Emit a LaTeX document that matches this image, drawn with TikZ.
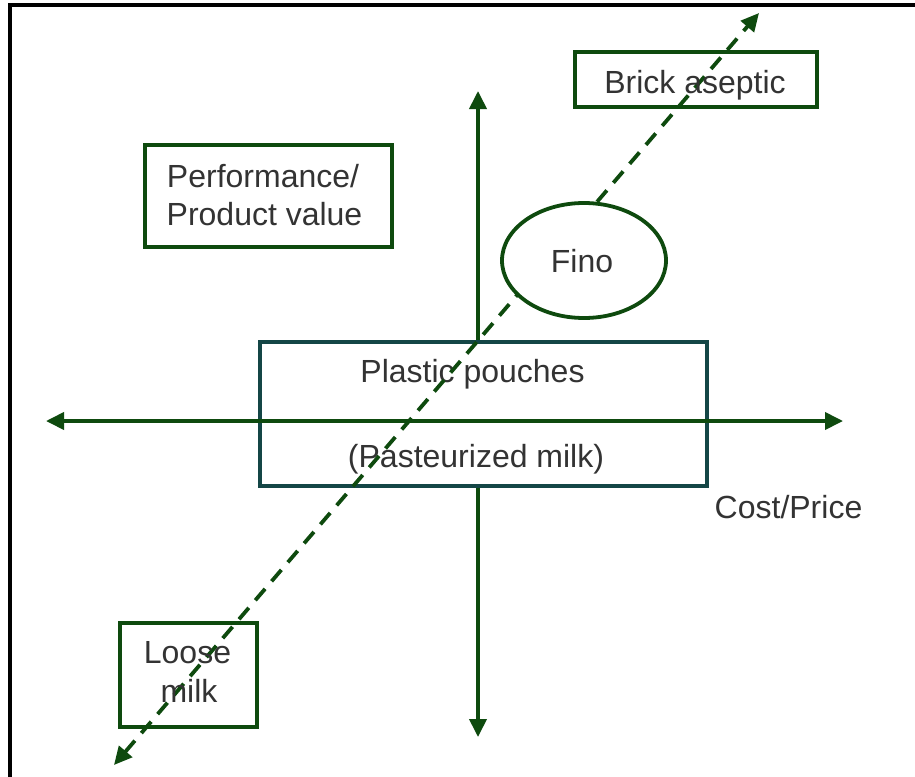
\documentclass[tikz,border=0pt]{standalone}
\usepackage{fontspec}
\setmainfont{Liberation Sans}
\usetikzlibrary{arrows.meta,shapes.geometric}
\definecolor{dg}{RGB}{14,74,14}
\definecolor{boxteal}{RGB}{20,70,70}
\tikzset{
  lbl/.style={font=\fontsize{32}{38}\selectfont, text=black!80, inner sep=0pt, anchor=base},
  gbox/.style={draw=dg, line width=3.8pt, inner sep=0pt},
  axisline/.style={draw=dg, line width=3.8pt, {Triangle[length=18pt,width=17pt]}-{Triangle[length=18pt,width=17pt]}},
  dashline/.style={draw=dg, line width=3.8pt, dash pattern=on 15pt off 10pt, {Triangle[length=18pt,width=17pt]}-{Triangle[length=18pt,width=17pt]}},
}
\begin{document}
\begin{tikzpicture}[x=1pt,y=-1pt]
\useasboundingbox (0,0) rectangle (915,776);
\clip (0,0) rectangle (915,776);
\fill[white] (0,0) rectangle (915,776);
% frame
\draw[black, line width=3.5pt] (10,800) -- (10,5) -- (930,5);
% axis end points
\coordinate (L) at (46,421);
\coordinate (R) at (843,421);
\coordinate (T) at (478,91);
\coordinate (B) at (478,737);
\coordinate (DS) at (114,765);
\coordinate (DE) at (759,13);
% vertical axis
\draw[axisline] (B) -- (T);
% plastic pouches box
\node[draw=boxteal, line width=3.8pt, fill=white, minimum width=447pt, minimum height=144pt, inner sep=0pt] (pouch) at (483.5,414) {};
\node[lbl] (pouchA) at (472.5,382) {Plastic pouches};
\node[lbl] (pouchB) at (476,467) {(Pasteurized milk)};
% horizontal axis
\draw[axisline] (L) -- (R);
% dashed diagonal
\draw[dashline] (DS) -- (DE);
% Fino
\node[gbox, ellipse, fill=white, minimum width=164pt, minimum height=115pt] (fino) at (584,260.5) {};
\node[lbl] (finotxt) at (582,272) {Fino};
% other boxes
\node[gbox, minimum width=242pt, minimum height=55pt] (brick) at (696,79.5) {};
\node[lbl] (bricktxt) at (695,93) {Brick aseptic};
\node[gbox, minimum width=247pt, minimum height=102pt] (perf) at (268.5,196) {};
\node[lbl] (perftxtA) at (263,187) {Performance/};
\node[lbl] (perftxtB) at (264.5,225) {Product value};
\node[gbox, minimum width=137pt, minimum height=104pt] (loose) at (188.5,675) {};
\node[lbl] (loosetxtA) at (187.5,663) {Loose};
\node[lbl] (loosetxtB) at (189,702) {milk};
\node[lbl] (cost) at (788.5,518) {Cost/Price};
\end{tikzpicture}
\end{document}
